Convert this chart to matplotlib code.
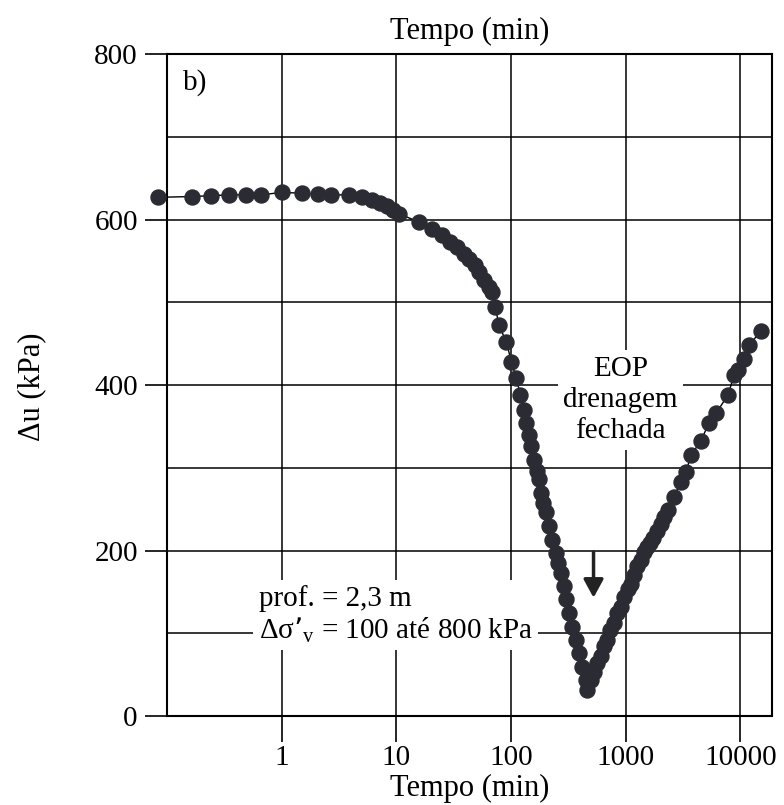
import matplotlib
matplotlib.use('Agg')
import matplotlib.pyplot as plt
from matplotlib.ticker import NullLocator, FixedLocator

plt.rcParams['font.family'] = ['Liberation Serif', 'DejaVu Serif']
plt.rcParams['mathtext.default'] = 'regular'

# Tempo (min) e excesso de poropressao (kPa)
tempo = [0.083, 0.165, 0.242, 0.344, 0.491, 0.664, 1.0, 1.49, 2.08, 2.72,
         3.86, 4.98, 6.09, 7.2, 8.24, 9.4, 10.6,
         15.9, 20.4, 25, 29.5, 33.8, 38.6, 42.7, 48.8, 52.2, 57.8, 63.9, 68.4,
         73.1, 78.2, 91.3, 100.9, 111.5,
         121, 129, 136, 143, 151, 158, 167, 175, 181, 191, 204, 214, 229, 245,
         256, 271, 289, 305, 320, 343, 366, 391, 419, 448, 463,
         495, 526, 565, 606, 645, 684, 735, 787, 845, 906, 975, 1043, 1110,
         1177, 1260, 1355, 1440, 1530, 1630, 1727, 1870, 2028, 2180, 2335,
         2636, 3036, 3356, 3714, 4541, 5333, 6142, 7813, 8826, 9570, 10800,
         11940, 15200]
du = [627, 628, 629, 630, 630, 630, 633, 632, 631, 630,
      630, 627, 624, 620, 616, 612, 607,
      597, 589, 581, 573, 567, 559, 553, 545, 537, 527, 519, 513,
      495, 473, 452, 428, 408,
      388, 370, 354, 340, 326, 310, 296, 286, 270, 258, 246, 230, 213, 197,
      185, 173, 157, 141, 124, 108, 92, 76, 59, 43, 31,
      44, 53, 64, 73, 84, 92, 104, 113, 124, 132, 144, 153, 160,
      170, 181, 189, 198, 204, 209, 215, 224, 232, 241, 249,
      265, 283, 295, 315, 333, 354, 366, 388, 412, 418, 432,
      448, 466]

xticks = [1, 10, 100, 1000, 10000]
xticklabels = ['1', '10', '100', '1000', '10000']
yticks = [0, 200, 400, 600, 800]
ygrid_minor = [100, 300, 500, 700]

# seta do fim do adensamento primario (EOP)
t_eop = 525
seta_de, seta_ate = 198, 143

fig = plt.figure(figsize=(7.84, 8.05), dpi=100)
ax = fig.add_axes([0.213, 0.1106, 0.772, 0.822])

ax.plot(tempo, du, '-', color='black', lw=1.0, zorder=3)
ax.plot(tempo, du, 'o', ms=10.8, color='#2b2b33', mec='#2b2b33',
        clip_on=False, zorder=4)

ax.set_xscale('log')
ax.set_xlim(0.1, 19000)
ax.set_ylim(0, 800)

ax.xaxis.set_major_locator(FixedLocator(xticks))
ax.xaxis.set_minor_locator(NullLocator())
ax.set_xticklabels(xticklabels)
ax.set_yticks(yticks)
ax.yaxis.set_minor_locator(FixedLocator(ygrid_minor))

ax.grid(True, which='both', color='black', lw=1.1)
ax.set_axisbelow(True)
for s in ax.spines.values():
    s.set_linewidth(1.5)

ax.tick_params(axis='y', which='major', direction='out', length=16, width=1.2,
               pad=5, labelsize=21)
ax.tick_params(axis='y', which='minor', length=0)
ax.tick_params(axis='x', which='major', direction='out', length=19, width=1.2,
               pad=2, labelsize=21)

ax.set_title('Tempo (min)', fontsize=22, pad=11)
ax.set_xlabel('Tempo (min)', fontsize=22)
ax.xaxis.set_label_coords(0.5, -0.088)
ax.set_ylabel('Δu (kPa)', fontsize=22)
ax.yaxis.set_label_coords(-0.2, 0.497)

ax.text(0.026, 0.957, 'b)', transform=ax.transAxes, ha='left', va='center',
        fontsize=21)
ax.text(900, 382, 'EOP\ndrenagem\nfechada', ha='center', va='center',
        fontsize=21, linespacing=1.25, zorder=5,
        bbox=dict(fc='white', ec='none', pad=4))
ax.text(0.63, 122, 'prof. = 2,3 m\nΔσ’$_{v}$ = 100 até 800 kPa', ha='left',
        va='center', fontsize=21, linespacing=1.15, zorder=5,
        bbox=dict(fc='white', ec='none', pad=4))

ax.annotate('', xy=(t_eop, seta_ate), xytext=(t_eop, seta_de),
            arrowprops=dict(arrowstyle='-|>,head_length=0.55,head_width=0.3',
                            lw=2.5, color='#222222', mutation_scale=20,
                            shrinkA=0, shrinkB=0), zorder=5)

fig.savefig('out.png', dpi=100)
